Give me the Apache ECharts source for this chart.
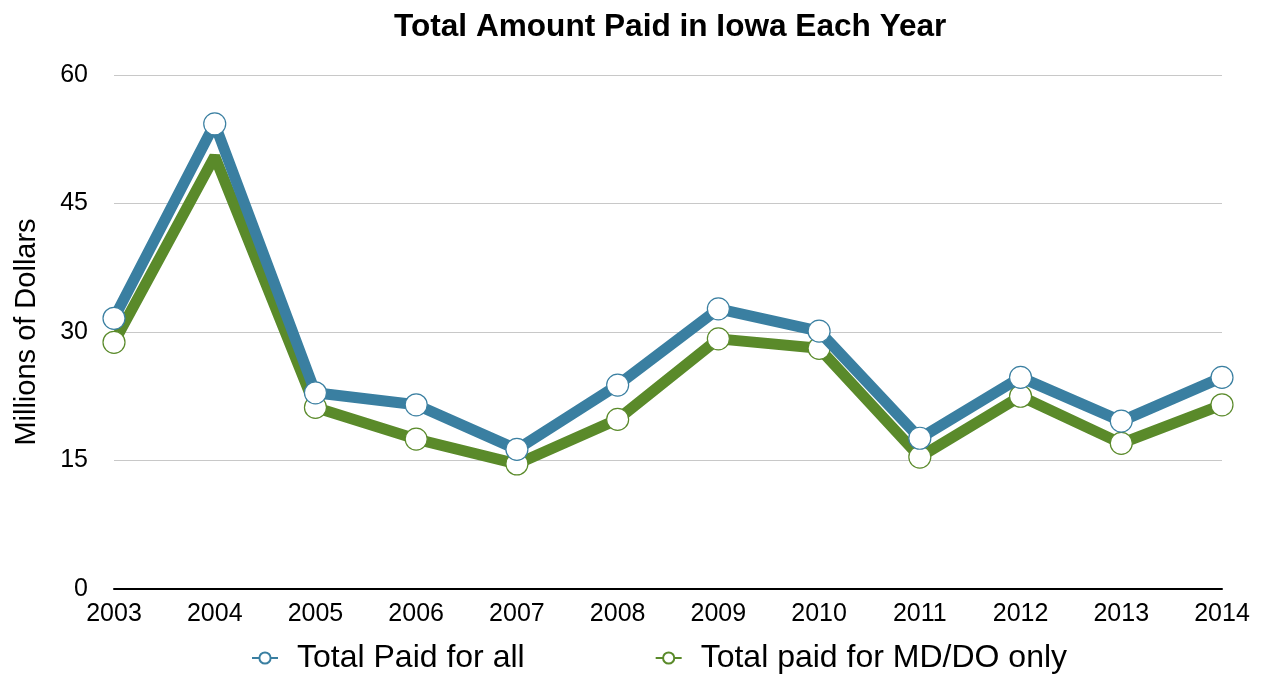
<!DOCTYPE html>
<html>
<head>
<meta charset="utf-8">
<script src="https://cdn.jsdelivr.net/npm/echarts@6/dist/echarts.min.js"></script>
<style>
html, body { margin: 0; padding: 0; background: #fff; }
#chart { width: 1265px; height: 675px; }
</style>
</head>
<body>
<div id="chart"></div>
<script>
// years and values (millions of dollars)
var years = ['2003', '2004', '2005', '2006', '2007', '2008', '2009', '2010', '2011', '2012', '2013', '2014'];
var paidAll = [31.6, 54.3, 22.9, 21.5, 16.3, 23.8, 32.7, 30.1, 17.6, 24.7, 19.6, 24.7];
var paidMdDo = [28.8, 50.5, 21.2, 17.5, 14.6, 19.8, 29.2, 28.1, 15.4, 22.5, 17.0, 21.5];
var yTicks = [0, 15, 30, 45, 60];

var chart = echarts.init(document.getElementById('chart'));

// hidden: index of points whose marker sits under the other line in the original
function mkSeries(name, data, color, z, hidden) {
    return {
        name: name,
        type: 'line',
        data: data.map(function (v, i) {
            return hidden.indexOf(i) >= 0 ? { value: v, symbol: 'none' } : v;
        }),
        z: z,
        symbol: 'circle',
        symbolSize: 22,
        showAllSymbol: true,
        lineStyle: { color: color, width: 11 },
        itemStyle: { color: '#fff', borderColor: color, borderWidth: 1.2 },
        emphasis: { disabled: true }
    };
}

chart.setOption({
    animation: false,
    textStyle: { fontFamily: 'Liberation Sans, Arial, sans-serif' },
    title: {
        text: 'Total Amount Paid in Iowa Each Year',
        left: 389,
        top: 6,
        textStyle: { fontSize: 31.6, fontWeight: 'bold', color: '#000' }
    },
    legend: {
        top: 637,
        left: 246,
        itemGap: 130,
        itemWidth: 26,
        itemHeight: 14,
        textStyle: { fontSize: 32, color: '#000', padding: [0, 0, 0, 14] },
        data: ['Total Paid for all', 'Total paid for MD/DO only']
    },
    grid: { left: 114, right: 43, top: 75, bottom: 86 },
    xAxis: {
        type: 'category',
        data: years,
        boundaryGap: false,
        axisLine: { lineStyle: { color: '#000', width: 2 } },
        axisTick: { show: false },
        axisLabel: { color: '#000', fontSize: 25, margin: 13 }
    },
    yAxis: {
        type: 'value',
        min: yTicks[0],
        max: yTicks[yTicks.length - 1],
        interval: 15,
        name: 'Millions of Dollars',
        nameLocation: 'middle',
        nameGap: 73,
        nameRotate: 90,
        nameTextStyle: { fontSize: 29, color: '#000' },
        axisLine: { show: false },
        axisTick: { show: false },
        axisLabel: { color: '#000', fontSize: 25, margin: 26 },
        splitLine: { lineStyle: { color: '#c8c8c8', width: 1 } }
    },
    series: [
        mkSeries('Total paid for MD/DO only', paidMdDo, '#5a8a2a', 2, [1]),
        mkSeries('Total Paid for all', paidAll, '#3a7fa1', 3, [])
    ]
});
</script>
</body>
</html>
